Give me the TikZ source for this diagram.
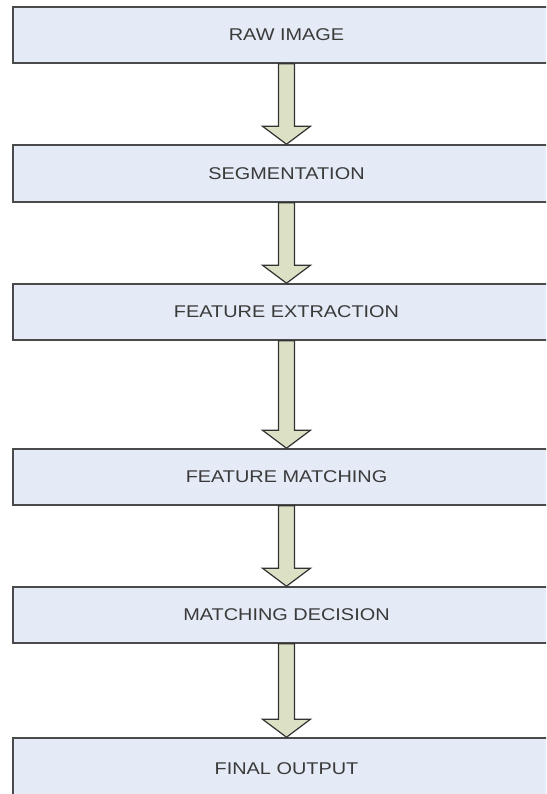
\documentclass[tikz,border=0pt]{standalone}
\usepackage{fontspec}
\setmainfont{Liberation Sans}
\usetikzlibrary{calc}
\definecolor{boxfill}{HTML}{E4EBF6}
\definecolor{boxline}{HTML}{4A4A4A}
\definecolor{arrowfill}{HTML}{DCE1C6}
\definecolor{txtcol}{HTML}{3A3A3A}
\tikzset{
  stagebox/.style={draw=boxline, line width=1.6pt, fill=boxfill, minimum width=547pt, inner sep=0pt, text=txtcol,
    font=\fontsize{17}{20}\selectfont},
  blockarrow/.style={draw=black!80, line width=1.2pt, fill=arrowfill, line join=miter}
}
\newcommand{\stxt}[1]{\scalebox{1.17}[1]{#1}}
\newcommand{\blockarr}[2]{%
  \draw[blockarrow] ([xshift=-8pt]#1.south) -- ([xshift=-8pt,yshift=18pt]#2.north) -- ([xshift=-24pt,yshift=18pt]#2.north) -- (#2.north) -- ([xshift=24pt,yshift=18pt]#2.north) -- ([xshift=8pt,yshift=18pt]#2.north) -- ([xshift=8pt]#1.south) -- cycle;}
\begin{document}
\begin{tikzpicture}[x=1pt,y=-1pt]
\useasboundingbox (0,0) rectangle (546,794);
\clip (0,0) rectangle (546,794);
\fill[white] (0,0) rectangle (546,794);
\node[stagebox, minimum height=56pt] (raw) at (286.5,35) {\stxt{RAW IMAGE}};
\node[stagebox, minimum height=57pt] (seg) at (286.5,173.5) {\stxt{SEGMENTATION}};
\node[stagebox, minimum height=56pt] (fext) at (286.5,312) {\stxt{FEATURE EXTRACTION}};
\node[stagebox, minimum height=56pt] (fmat) at (286.5,477) {\stxt{FEATURE MATCHING}};
\node[stagebox, minimum height=56pt] (mdec) at (286.5,615) {\stxt{MATCHING DECISION}};
\node[stagebox, minimum height=62pt] (fout) at (286.5,769) {\stxt{FINAL OUTPUT}};
\blockarr{raw}{seg}
\blockarr{seg}{fext}
\blockarr{fext}{fmat}
\blockarr{fmat}{mdec}
\blockarr{mdec}{fout}
\end{tikzpicture}
\end{document}
